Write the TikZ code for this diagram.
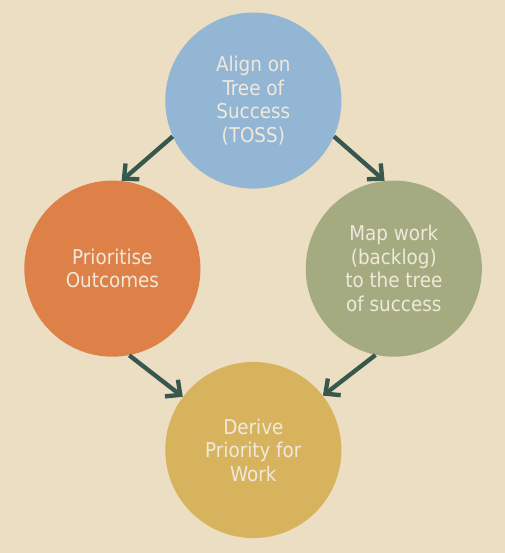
\documentclass[tikz,border=0pt]{standalone}
\usepackage{fontspec}
\setmainfont{DejaVu Sans Condensed}
\usetikzlibrary{arrows.meta,shapes.geometric}
\definecolor{bgcream}{HTML}{EBDEC3}
\definecolor{tossblue}{HTML}{93B6D4}
\definecolor{prioorange}{HTML}{DE8149}
\definecolor{mapgreen}{HTML}{A4AB81}
\definecolor{deriveyellow}{HTML}{D8B35E}
\definecolor{arrgreen}{HTML}{38574D}
\definecolor{txtcream}{HTML}{F0E9DB}
\begin{document}
\begin{tikzpicture}[x=0.75pt,y=-0.75pt,
  blob/.style={circle,minimum size=134pt,inner sep=0pt,
    text=txtcream,align=center,font=\fontsize{15.5}{17.9}\selectfont},
  arr/.style={draw=arrgreen,line width=3.3pt,-{Straight Barb[length=8.5pt,width=16pt]}}]
\fill[bgcream] (-4,-4) rectangle (508,557);
\useasboundingbox (0,0) rectangle (504,553);
\path
(253,98) node[blob,fill=tossblue] (toss) {Align on\\Tree of\\Success\\(TOSS)}
(110,268.5) node[blob,fill=prioorange] (prio) {Prioritise\\Outcomes}
(395.5,268.5) node[blob,fill=mapgreen] (map) {Map work\\(backlog)\\to the tree\\of success}
(253,452.5) node[blob,fill=deriveyellow] (derive) {Derive\\Priority for\\Work};
%\draw[help lines] (0,0) grid (504,553);
\draw[arr] (toss.204) -- (prio.84);
\draw[arr] (toss.336) -- (map.96);
\draw[arr] (prio.281) -- (derive.143);
\draw[arr] (map.258) -- (derive.38);
\end{tikzpicture}
\end{document}
